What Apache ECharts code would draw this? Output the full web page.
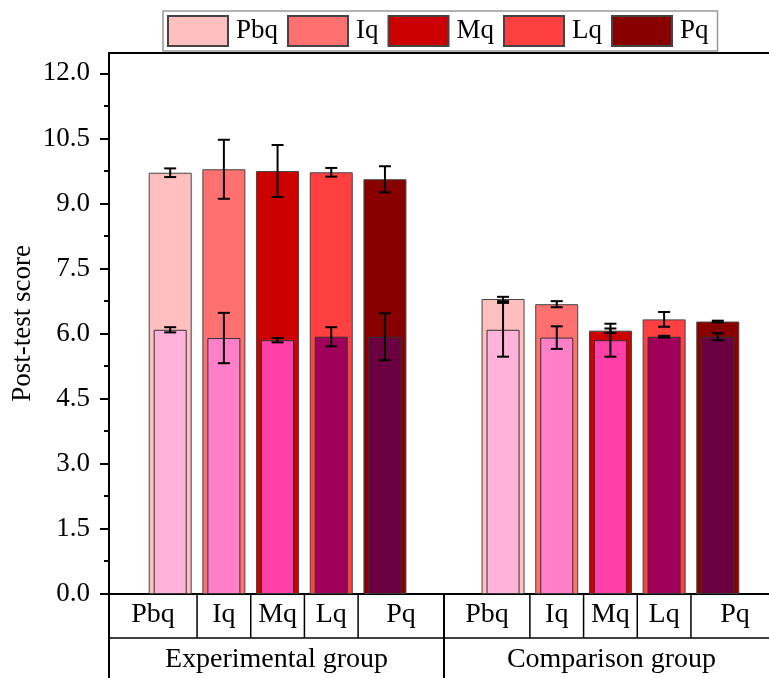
<!DOCTYPE html>
<html>
<head>
<meta charset="utf-8">
<script src="https://cdn.jsdelivr.net/npm/echarts@6/dist/echarts.min.js"></script>
<style>
html,body{margin:0;padding:0;background:#fff;}
#main{width:769px;height:678px;}
</style>
</head>
<body>
<div id="main"></div>
<script>
// ---- data ----
const categories = ['Pbq', 'Iq', 'Mq', 'Lq', 'Pq'];
const groups = ['Experimental group', 'Comparison group'];
const expOuter = [9.71, 9.79, 9.75, 9.72, 9.56];
const expOuterErr = [0.10, 0.68, 0.60, 0.10, 0.30];
const expInner = [6.09, 5.90, 5.85, 5.93, 5.93];
const expInnerErr = [0.06, 0.58, 0.05, 0.22, 0.54];
const compOuter = [6.80, 6.68, 6.07, 6.33, 6.28];
const compOuterErr = [0.05, 0.07, 0.05, 0.17, 0.02];
const compInner = [6.09, 5.91, 5.85, 5.93, 5.93];
const compInnerErr = [0.62, 0.26, 0.38, 0.02, 0.08];
const yTicks = [0, 1.5, 3, 4.5, 6, 7.5, 9, 10.5, 12];
const yMinorTicks = [0.75, 2.25, 3.75, 5.25, 6.75, 8.25, 9.75, 11.25];

// ---- styles / layout ----
const outerColors = ['#FFBFBF', '#FF7070', '#CC0000', '#FF4040', '#880000'];
const innerColors = ['#FFB3DA', '#FF80C8', '#FF40A8', '#A0005A', '#6A0040'];
const FONT = '"Liberation Serif", "Times New Roman", serif';
const GROUP_OFFSET = 6.2;
const X_MIN = -0.14, X_MAX = 12.34;

const posOf = (g, i) => i + 1 + g * GROUP_OFFSET;

const chart = echarts.init(document.getElementById('main'));

const series = [];
categories.forEach((c, i) => {
  series.push({
    name: c, type: 'bar', xAxisIndex: 0, yAxisIndex: 0,
    barWidth: 43, barGap: '-100%',
    itemStyle: { color: outerColors[i], borderColor: '#444', borderWidth: 1 },
    data: [[posOf(0, i), expOuter[i]], [posOf(1, i), compOuter[i]]],
    z: 2
  });
});
categories.forEach((c, i) => {
  series.push({
    name: c + ' inner', type: 'bar', xAxisIndex: 1, yAxisIndex: 0,
    barWidth: 33, barGap: '-100%',
    itemStyle: { color: innerColors[i], borderColor: '#333', borderWidth: 1 },
    data: [[posOf(0, i), expInner[i]], [posOf(1, i), compInner[i]]],
    z: 3
  });
});

const errData = [];
categories.forEach((c, i) => {
  errData.push([posOf(0, i), expOuter[i] - expOuterErr[i], expOuter[i] + expOuterErr[i]]);
  errData.push([posOf(1, i), compOuter[i] - compOuterErr[i], compOuter[i] + compOuterErr[i]]);
  errData.push([posOf(0, i), expInner[i] - expInnerErr[i], expInner[i] + expInnerErr[i]]);
  errData.push([posOf(1, i), compInner[i] - compInnerErr[i], compInner[i] + compInnerErr[i]]);
});

series.push({
  type: 'custom', name: 'err', xAxisIndex: 0, yAxisIndex: 0, z: 10,
  encode: { x: 0, y: [1, 2] },
  data: errData,
  renderItem: function (params, api) {
    const x = api.value(0), lo = api.value(1), hi = api.value(2);
    const p1 = api.coord([x, hi]), p2 = api.coord([x, lo]);
    const hw = 6;
    const st = { stroke: '#000', lineWidth: 2 };
    return {
      type: 'group', children: [
        { type: 'line', shape: { x1: p1[0], y1: p1[1], x2: p2[0], y2: p2[1] }, style: st },
        { type: 'line', shape: { x1: p1[0] - hw, y1: p1[1], x2: p1[0] + hw, y2: p1[1] }, style: st },
        { type: 'line', shape: { x1: p2[0] - hw, y1: p2[1], x2: p2[0] + hw, y2: p2[1] }, style: st }
      ]
    };
  }
});

const option = {
  animation: false,
  backgroundColor: '#fff',
  grid: {
    left: 109, right: -10, top: 53, bottom: 84,
    containLabel: false, outerBoundsMode: 'none',
    show: true, borderColor: '#000', borderWidth: 2, backgroundColor: 'transparent'
  },
  legend: {
    data: categories,
    left: 163, top: 11,
    itemWidth: 60, itemHeight: 30, itemGap: 9,
    icon: 'rect',
    borderColor: '#999', borderWidth: 1.5,
    padding: [4, 9, 4, 4],
    textStyle: { fontSize: 27, fontFamily: FONT, color: '#000', padding: [0, 0, 0, 3] }
  },
  xAxis: [
    { type: 'value', min: X_MIN, max: X_MAX, axisLine: { show: true, onZero: false, lineStyle: { color: '#000', width: 2 } }, axisTick: { show: false }, axisLabel: { show: false }, splitLine: { show: false } },
    { type: 'value', min: X_MIN, max: X_MAX, show: false, splitLine: { show: false } }
  ],
  yAxis: [
    {
      type: 'value', min: 0, max: 12.47, interval: 1.5,
      name: 'Post-test score', nameLocation: 'middle', nameGap: 73, nameMoveOverlap: false,
      nameTextStyle: { fontSize: 27, fontFamily: FONT, color: '#000' },
      axisLine: { show: true, onZero: false, lineStyle: { color: '#000', width: 2 } },
      axisTick: { show: true, length: 9, lineStyle: { color: '#000', width: 2 }, customValues: yTicks },
      axisLabel: { fontSize: 27, fontFamily: FONT, color: '#000', margin: 19, customValues: yTicks, formatter: v => v.toFixed(1) },
      splitLine: { show: false }
    }
  ],
  series: series
};

chart.setOption(option);

// ---- minor ticks and category boxes under the axis ----
const xpx = v => chart.convertToPixel({ xAxisIndex: 0 }, v);
const ypx = v => chart.convertToPixel({ yAxisIndex: 0 }, v);
const y0 = ypx(0);
const row1 = y0 + 44;
const row2 = 678;
const lineStyle = { stroke: '#000', lineWidth: 1.5 };
const textStyle = (t, x, y) => ({ type: 'text', x: x, y: y, style: { text: t, font: '28px ' + FONT, fill: '#000', align: 'center', verticalAlign: 'middle' } });
const elements = [];
const leftPx = xpx(X_MIN), rightPx = xpx(X_MAX);
yMinorTicks.forEach(v => {
  const y = Math.round(ypx(v));
  elements.push({ type: 'line', shape: { x1: leftPx - 5, y1: y, x2: leftPx, y2: y }, style: { stroke: '#000', lineWidth: 2 } });
});
const groupBounds = [X_MIN, (posOf(0, categories.length - 1) + posOf(1, 0)) / 2, X_MAX];
elements.push({ type: 'line', shape: { x1: leftPx, y1: row1, x2: rightPx, y2: row1 }, style: lineStyle });
groups.forEach((g, gi) => {
  const bounds = [groupBounds[gi]];
  for (let i = 0; i < categories.length - 1; i++) bounds.push((posOf(gi, i) + posOf(gi, i + 1)) / 2);
  bounds.push(groupBounds[gi + 1]);
  for (let i = 1; i < bounds.length - 1; i++) {
    const x = xpx(bounds[i]);
    elements.push({ type: 'line', shape: { x1: x, y1: y0, x2: x, y2: row1 }, style: lineStyle });
  }
  categories.forEach((c, i) => {
    elements.push(textStyle(c, (xpx(bounds[i]) + xpx(bounds[i + 1])) / 2, (y0 + row1) / 2 - 1));
  });
  elements.push(textStyle(g, (xpx(groupBounds[gi]) + xpx(groupBounds[gi + 1])) / 2, (row1 + row2) / 2 + 2));
});
groupBounds.forEach(b => {
  const x = xpx(b);
  elements.push({ type: 'line', shape: { x1: x, y1: y0, x2: x, y2: row2 }, style: { stroke: '#000', lineWidth: 2 } });
});
chart.setOption({ graphic: { elements: elements } });
</script>
</body>
</html>
